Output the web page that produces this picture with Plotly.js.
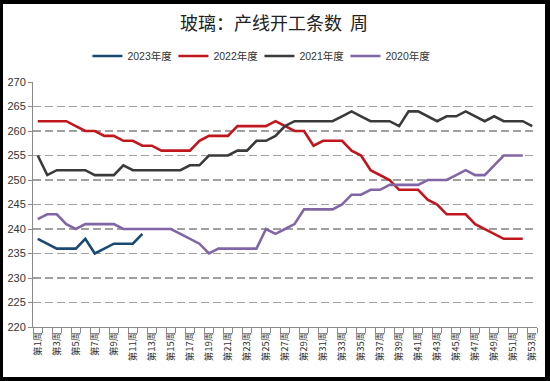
<!DOCTYPE html>
<html>
<head>
<meta charset="utf-8">
<script src="https://cdn.plot.ly/plotly-3.0.1.min.js"></script>
<style>
  html, body { margin: 0; padding: 0; background: #000; width: 550px; height: 381px; overflow: hidden; }
  #chart { position: absolute; left: 3px; top: 4px; width: 542px; height: 373px; background: #fff; }
</style>
</head>
<body>
<div id="chart"></div>
<script>
// Categories: week numbers and their labels
var weeks = [];
var weekLabels = [];
for (var i = 1; i <= 53; i++) { weeks.push(i); weekLabels.push('第' + i + '周'); }

var series2023 = [238,237,236,236,236,238,235,236,237,237,237,239];
var series2022 = [262,262,262,262,261,260,260,259,259,258,
                  258,257,257,256,256,256,256,258,259,259,
                  259,261,261,261,261,262,261,260,260,257,
                  258,258,258,256,255,252,251,250,248,248,
                  248,246,245,243,243,243,241,240,239,238,238,238];
var series2021 = [255,251,252,252,252,252,251,251,251,253,
                  252,252,252,252,252,252,253,253,255,255,
                  255,256,256,258,258,259,261,262,262,262,
                  262,262,263,264,263,262,262,262,261,264,
                  264,263,262,263,263,264,263,262,263,262,262,262,261];
var series2020 = [242,243,243,241,240,241,241,241,241,240,
                  240,240,240,240,240,239,238,237,235,236,
                  236,236,236,236,240,239,240,241,244,244,
                  244,244,245,247,247,248,248,249,249,249,
                  249,250,250,250,251,252,251,251,253,255,255,255];

var seriesNames = ['2023年度','2022年度','2021年度','2020年度'];
var seriesColors = ['#1a4a72','#c0161e','#3a3a3a','#8166a5'];
var seriesData = [series2023, series2022, series2021, series2020];

var yTicks = [220,225,230,235,240,245,250,255,260,265,270];
var xTickVals = weeks.filter(function(w){ return w % 2 === 1; });
var xTickText = xTickVals.map(function(w){ return weekLabels[w-1]; });

var traces = seriesData.map(function(d, k) {
  return {
    x: weeks.slice(0, d.length),
    y: d,
    type: 'scatter',
    mode: 'lines',
    name: seriesNames[k],
    line: { color: seriesColors[k], width: 2.6 },
    hoverinfo: 'skip'
  };
});

var FONT = 'Liberation Sans, Arial, Noto Sans CJK SC, sans-serif';
var CJK = 'Noto Sans CJK SC, sans-serif';

var layout = {
  width: 542, height: 373,
  paper_bgcolor: '#fff', plot_bgcolor: '#fff',
  margin: { l: 30, r: 8, t: 78, b: 50, pad: 0 },
  font: { family: FONT, color: '#333', size: 10.5 },
  title: {
    text: '玻璃：产线开工条数  周',
    font: { family: CJK, size: 18, color: '#222' },
    x: 0.5, xanchor: 'center', xref: 'container',
    y: 1 - 20/373, yanchor: 'middle', yref: 'container'
  },
  showlegend: true,
  legend: {
    orientation: 'h', x: 0.108, xanchor: 'left',
    y: 1 + 26/245, yanchor: 'middle',
    font: { family: FONT, size: 10.5, color: '#333' },
    entrywidth: 41, entrywidthmode: 'pixels',
    bgcolor: 'rgba(0,0,0,0)'
  },
  xaxis: {
    range: [0.5, 53.5],
    tickmode: 'array', tickvals: xTickVals, ticktext: xTickText,
    tickangle: -90,
    ticks: '',
    showgrid: false, zeroline: false,
    showline: true, linecolor: '#8a8a8a', linewidth: 1,
    tickfont: { family: CJK, size: 9.5, color: '#333' },
    minor: { tickmode: 'linear', tick0: 0.5, dtick: 1, ticks: 'outside', ticklen: 5, tickcolor: '#8a8a8a', tickwidth: 1, showgrid: false },
    fixedrange: true
  },
  yaxis: {
    range: [220, 270],
    tickmode: 'array', tickvals: yTicks,
    ticks: 'outside', ticklen: 4, tickcolor: '#8a8a8a',
    showline: true, linecolor: '#8a8a8a', linewidth: 1,
    showgrid: true, gridcolor: '#a0a0a0', gridwidth: 1.3, griddash: '8px,4px',
    zeroline: false,
    tickfont: { family: FONT, size: 11, color: '#333' },
    fixedrange: true
  }
};

Plotly.newPlot('chart', traces, layout, { staticPlot: true, displayModeBar: false });
</script>
</body>
</html>
